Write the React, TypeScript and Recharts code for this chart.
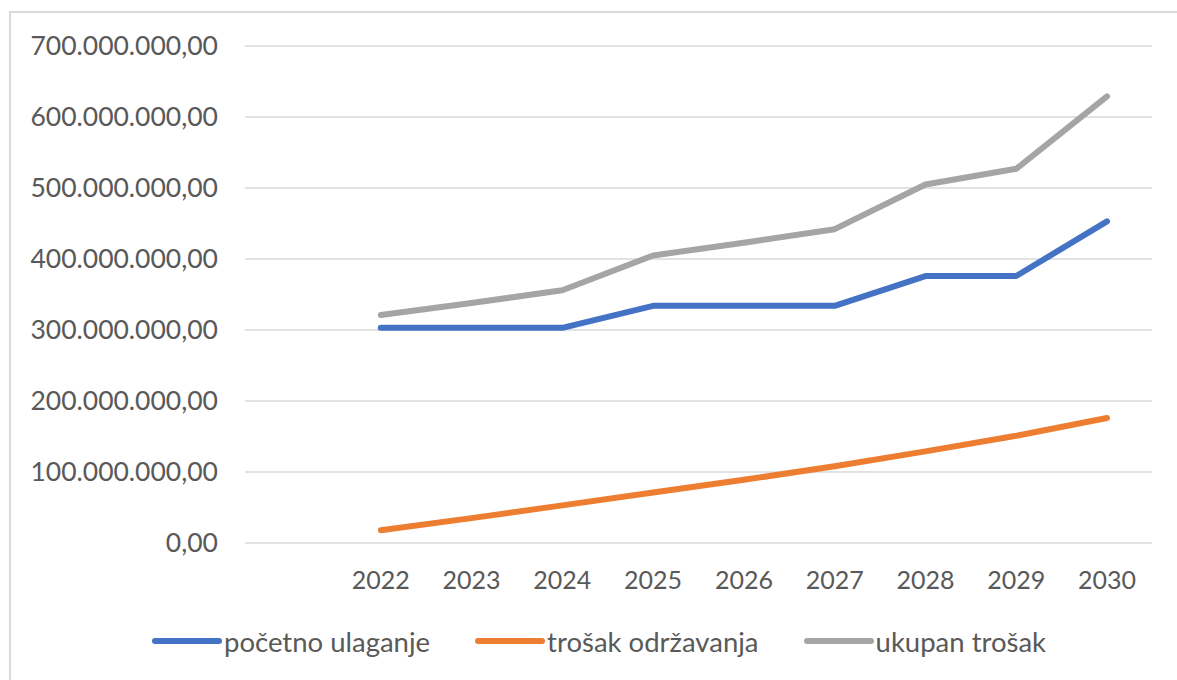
import { LineChart, Line, XAxis, YAxis, CartesianGrid, Legend } from 'recharts'

const years = ['', '2022', '2023', '2024', '2025', '2026', '2027', '2028', '2029', '2030']
const pocetnoUlaganje = [null, 303, 303, 303, 334, 334, 334, 376, 376, 453]
const trosakOdrzavanja = [null, 18, 35, 53, 71, 89, 108, 129, 151, 176]
const ukupanTrosak = [null, 321, 338, 356, 405, 423, 442, 505, 527, 629]
const yTicks = [0, 100, 200, 300, 400, 500, 600, 700]

const M = 1000000
const data = years.map((year, i) => ({
  year,
  pocetno: pocetnoUlaganje[i] == null ? null : pocetnoUlaganje[i]! * M,
  odrzavanje: trosakOdrzavanja[i] == null ? null : trosakOdrzavanja[i]! * M,
  ukupan: ukupanTrosak[i] == null ? null : ukupanTrosak[i]! * M,
}))

const series = [
  { key: 'pocetno', name: 'početno ulaganje', color: '#4472C4' },
  { key: 'odrzavanje', name: 'trošak održavanja', color: '#ED7D31' },
  { key: 'ukupan', name: 'ukupan trošak', color: '#A5A5A5' },
]

const FONT = 'Lato, "Open Sans", sans-serif'
const TEXT = '#595959'

function fmt(v: number) {
  const s = Math.round(v).toString().replace(/\B(?=(\d{3})+(?!\d))/g, '.')
  return `${s},00`
}

function LegendBox() {
  return (
    <div style={{ height: 40, display: 'flex', alignItems: 'center', paddingLeft: 152, fontFamily: FONT, fontSize: 27.5, color: TEXT }}>
      {series.map(s => (
        <div key={s.key} style={{ display: 'flex', alignItems: 'center', marginRight: 45 }}>
          <span style={{ display: 'inline-block', width: 70, height: 6, borderRadius: 3, background: s.color }} />
          <span style={{ marginLeft: 2 }}>{s.name}</span>
        </div>
      ))}
    </div>
  )
}

export default function App() {
  return (
    <div style={{ position: 'fixed', left: 0, top: 0, width: 1177, height: 680, background: '#fff', overflow: 'hidden' }}>
      <div style={{ position: 'absolute', left: 9, top: 11, width: 1220, height: 720, border: '2px solid #d9d9d9' }} />
      <LineChart
        width={1177}
        height={680}
        data={data}
        margin={{ top: 46, right: 25, left: 0, bottom: 19 }}
        style={{ position: 'absolute', left: 0, top: 0 }}
      >
        <CartesianGrid vertical={false} stroke="#d9d9d9" strokeWidth={1.5} />
        <XAxis
          dataKey="year"
          axisLine={false}
          tickLine={false}
          tickSize={0}
          tickMargin={28}
          height={78}
          padding={{ left: 45, right: 45 }}
          interval={0}
          tick={{ fill: TEXT, fontSize: 25, fontFamily: FONT }}
        />
        <YAxis
          domain={[0, 700 * M]}
          ticks={yTicks.map(t => t * M)}
          axisLine={false}
          tickLine={false}
          tickSize={0}
          tickMargin={27}
          width={245}
          tick={{ fill: TEXT, fontSize: 26.5, fontFamily: FONT }}
          tickFormatter={fmt}
        />
        <Legend verticalAlign="bottom" content={() => <LegendBox />} />
        {series.map(s => (
          <Line
            key={s.key}
            type="linear"
            dataKey={s.key}
            name={s.name}
            stroke={s.color}
            strokeWidth={6}
            strokeLinecap="round"
            strokeLinejoin="round"
            dot={false}
            activeDot={false}
            isAnimationActive={false}
          />
        ))}
      </LineChart>
    </div>
  )
}
